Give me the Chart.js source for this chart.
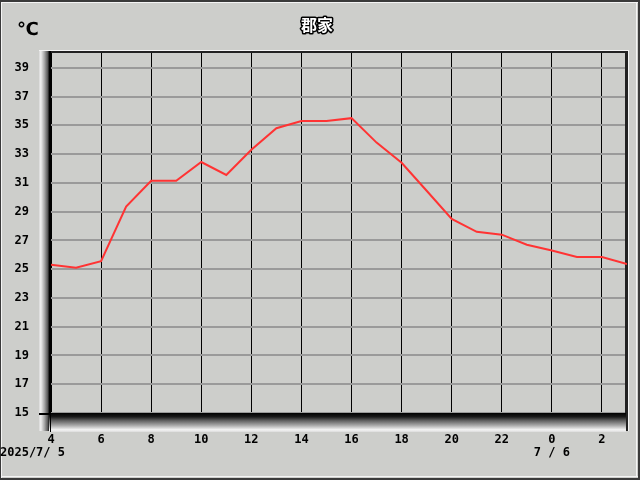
<!DOCTYPE html>
<html>
<head>
<meta charset="utf-8">
<script src="https://cdn.jsdelivr.net/npm/chart.js@4"></script>
<style>
  html, body { margin: 0; padding: 0; background: #cdcecb; overflow: hidden; }
</style>
</head>
<body>
<canvas id="chart" width="640" height="480"></canvas>
<script>
// Station / unit
const stationName = '郡家';
const unitLabel = '℃';

// hourly readings, 4:00 on 7/5 to 3:00 on 7/6 (hours past 24 = next day)
const hours = [4, 5, 6, 7, 8, 9, 10, 11, 12, 13, 14, 15, 16, 17, 18, 19, 20, 21, 22, 23, 24, 25, 26, 27];
const temps = [25.3, 25.1, 25.55, 29.35, 31.15, 31.15, 32.45, 31.55, 33.3, 34.8, 35.3, 35.3, 35.5,
               33.8, 32.4, 30.45, 28.5, 27.6, 27.4, 26.7, 26.3, 25.85, 25.85, 25.35];

// axis tick values
const yTicks = [15, 17, 19, 21, 23, 25, 27, 29, 31, 33, 35, 37, 39];
const xTicks = [4, 6, 8, 10, 12, 14, 16, 18, 20, 22, 24, 26];

// date captions under the hour ticks
const dateHours = [4, 24];
const dateTexts = ['2025/7/ 5', '7 / 6'];

const monoFont = '"DejaVu Sans Mono", "Liberation Mono", monospace';

// frame, bevels and captions drawn around the plot
const decorPlugin = {
  id: 'decor',
  beforeDraw(chart) {
    const ctx = chart.ctx;
    ctx.save();
    ctx.fillStyle = '#cdcecb';
    ctx.fillRect(0, 0, 640, 480);
    // window frame
    ctx.fillStyle = '#3a3a3a';
    ctx.fillRect(0, 0, 640, 2);
    ctx.fillRect(0, 478, 640, 2);
    ctx.fillRect(638, 0, 2, 480);
    ctx.fillRect(0, 0, 1, 480);
    ctx.fillStyle = '#f4f4f4';
    ctx.fillRect(1, 2, 637, 1);
    ctx.fillRect(1, 2, 1, 476);
    ctx.fillRect(1, 476, 637, 1);
    ctx.fillRect(636, 2, 1, 475);
    ctx.restore();
  },
  beforeDatasetsDraw(chart) {
    const ctx = chart.ctx;
    const a = chart.chartArea;
    ctx.save();
    // top edge
    ctx.fillStyle = '#f4f4f4';
    ctx.fillRect(39, a.top - 2, a.right - 39 + 2, 1);
    ctx.fillStyle = '#222';
    ctx.fillRect(39, a.top - 1, a.right - 39, 2);
    // right edge
    ctx.fillStyle = '#222';
    ctx.fillRect(a.right - 2, a.top - 1, 3, a.bottom + 19 - a.top);
    ctx.fillStyle = '#f4f4f4';
    ctx.fillRect(a.right + 1, a.top - 2, 1, a.bottom + 20 - a.top);
    // left bevel bar
    let g = ctx.createLinearGradient(39, 0, a.left, 0);
    g.addColorStop(0, '#d8d8d8');
    g.addColorStop(0.15, '#f0f0f0');
    g.addColorStop(0.45, '#a8a8a8');
    g.addColorStop(0.75, '#505050');
    g.addColorStop(0.85, '#000000');
    g.addColorStop(1, '#000000');
    ctx.fillStyle = g;
    ctx.fillRect(39, a.top - 1, a.left - 39, a.bottom + 19 - a.top);
    // bottom bevel bar
    g = ctx.createLinearGradient(0, a.bottom, 0, a.bottom + 19);
    g.addColorStop(0, '#000000');
    g.addColorStop(0.2, '#1a1a1a');
    g.addColorStop(0.4, '#606060');
    g.addColorStop(0.65, '#a8a8a8');
    g.addColorStop(0.88, '#f4f4f4');
    g.addColorStop(1, '#dcdcdc');
    ctx.fillStyle = g;
    ctx.fillRect(a.left - 2, a.bottom, a.right - a.left + 1, 19);
    // small tick marks at origin
    ctx.fillStyle = '#000';
    ctx.fillRect(39, a.bottom, a.left - 39, 2);
    ctx.fillRect(a.left - 1, a.bottom, 1, 19);
    ctx.restore();
  },
  afterDraw(chart) {
    const ctx = chart.ctx;
    const xs = chart.scales.x;
    ctx.save();
    // title with outline
    ctx.font = 'bold 16px "Noto Sans CJK JP"';
    ctx.textAlign = 'center';
    ctx.textBaseline = 'middle';
    ctx.lineJoin = 'round';
    ctx.lineWidth = 3;
    ctx.strokeStyle = '#000';
    ctx.strokeText(stationName, 317, 25);
    ctx.fillStyle = '#fff';
    ctx.fillText(stationName, 317, 25);
    // unit
    ctx.font = 'bold 18px "DejaVu Sans"';
    ctx.fillStyle = '#000';
    ctx.fillText(unitLabel, 28, 30);
    // dates
    ctx.font = 'bold 12px ' + monoFont;
    dateHours.forEach((h, i) => {
      if (i === 0) {
        ctx.textAlign = 'left';
        ctx.fillText(dateTexts[i], 0, 453);
      } else {
        ctx.textAlign = 'center';
        ctx.fillText(dateTexts[i], xs.getPixelForValue(h), 453);
      }
    });
    ctx.restore();
  }
};

new Chart(document.getElementById('chart'), {
  type: 'line',
  data: {
    datasets: [{
      data: hours.map((h, i) => ({ x: h, y: temps[i] })),
      borderColor: '#ff3333',
      borderWidth: 2,
      pointRadius: 0,
      tension: 0,
      fill: false
    }]
  },
  options: {
    responsive: false,
    animation: false,
    devicePixelRatio: 1,
    layout: { padding: { top: 52, right: 13, left: 0, bottom: 0 } },
    plugins: {
      legend: { display: false },
      tooltip: { enabled: false }
    },
    scales: {
      x: {
        type: 'linear',
        min: 4,
        max: 27,
        afterBuildTicks: s => { s.ticks = xTicks.map(v => ({ value: v })); },
        afterFit: s => { s.height = 67; },
        ticks: {
          autoSkip: false,
          maxRotation: 0,
          padding: 20,
          color: '#000',
          font: { family: monoFont, size: 12, weight: 'bold' },
          callback: v => String(v % 24)
        },
        grid: { color: '#000', lineWidth: 1, drawTicks: false },
        border: { display: false }
      },
      y: {
        min: 15,
        max: 40.1,
        afterBuildTicks: s => { s.ticks = yTicks.map(v => ({ value: v })); },
        afterFit: s => { s.width = 51; },
        ticks: {
          autoSkip: false,
          padding: 22,
          color: '#000',
          font: { family: monoFont, size: 12, weight: 'bold' }
        },
        grid: { color: '#9a9a9a', lineWidth: 2, drawTicks: false },
        border: { display: false }
      }
    }
  },
  plugins: [decorPlugin]
});
</script>
</body>
</html>
